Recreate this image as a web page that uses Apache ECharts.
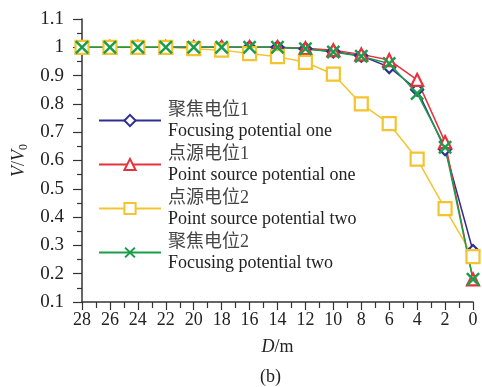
<!DOCTYPE html>
<html>
<head>
  <meta charset="utf-8">
</head>
<body style="margin: 0">
  <div id="container" style="width: 482px; height: 387px"></div>
  <script src="https://cdn.jsdelivr.net/npm/echarts@6/dist/echarts.min.js"></script>
  <script>
    // D/m positions
    var distances = [28, 26, 24, 22, 20, 18, 16, 14, 12, 10, 8, 6, 4, 2, 0];
    // V/V0 for each curve
    var focusOne = [1, 1, 1, 1, 1, 1, 1, 1, 0.995, 0.985, 0.97, 0.93, 0.85, 0.64, 0.28];
    var pointOne = [1, 1, 1, 1, 1, 1, 1, 1, 0.997, 0.99, 0.975, 0.955, 0.885, 0.665, 0.18];
    var pointTwo = [1, 1, 1, 1, 0.995, 0.99, 0.978, 0.967, 0.947, 0.905, 0.8, 0.73, 0.605, 0.43, 0.26];
    var focusTwo = [1, 1, 1, 1, 1, 1, 1, 1, 0.995, 0.983, 0.968, 0.943, 0.837, 0.647, 0.18];
    var seriesNames = ['聚焦电位1', '点源电位1', '点源电位2', '聚焦电位2'];
    var englishNames = ['Focusing potential one', 'Point source potential one',
      'Point source potential two', 'Focusing potential two'];

    var serif = '"Liberation Serif", "DejaVu Serif", "Noto Sans CJK SC", serif';
    var crossPath = 'path://M0,2.5 L2.5,0 L10,7.5 L17.5,0 L20,2.5 L12.5,10 L20,17.5 L17.5,20 L10,12.5 L2.5,20 L0,17.5 L7.5,10 Z';

    function pairs(values) {
      return distances.map(function (d, i) { return [d, values[i]]; });
    }

    var chart = echarts.init(document.getElementById('container'), null, { renderer: 'canvas' });

    function lineSeries(name, values, color, symbol, size, filled) {
      return {
        name: name,
        type: 'line',
        data: pairs(values),
        symbol: symbol,
        symbolSize: size,
        showAllSymbol: true,
        lineStyle: { color: color, width: 1.5 },
        itemStyle: filled
          ? { color: color, borderWidth: 0 }
          : { color: '#fff', borderColor: color, borderWidth: 2.2 }
      };
    }

    var option = {
      animation: false,
      backgroundColor: '#fff',
      color: ['#2e2f8f', '#e5333b', '#f4c430', '#1b9e4b'],
      title: {
        text: '(b)',
        left: 255,
        top: 363,
        textStyle: { fontFamily: serif, fontSize: 18, fontWeight: 'normal', color: '#222' }
      },
      legend: {
        orient: 'vertical',
        left: 93,
        top: 96,
        itemWidth: 62,
        itemHeight: 14,
        itemGap: 5,
        data: seriesNames,
        formatter: function (name) {
          var i = seriesNames.indexOf(name);
          return '{cn|' + name + '}\n{en|' + englishNames[i] + '}';
        },
        textStyle: {
          color: '#333',
          padding: [0, 0, 0, 2],
          rich: {
            cn: { fontFamily: serif, fontSize: 18, lineHeight: 21, color: '#444' },
            en: { fontFamily: serif, fontSize: 18, lineHeight: 21, color: '#222' }
          }
        }
      },
      grid: { left: 82, right: 9, top: 19, bottom: 85 },
      xAxis: {
        type: 'value',
        inverse: true,
        min: 0,
        max: 28,
        interval: 2,
        name: '{it|D}{n|/m}',
        nameLocation: 'middle',
        nameGap: 36,
        nameTextStyle: {
          rich: {
            it: { fontFamily: serif, fontSize: 18, fontStyle: 'italic', color: '#222' },
            n: { fontFamily: serif, fontSize: 18, color: '#222' }
          }
        },
        axisLine: { onZero: false, lineStyle: { color: '#333', width: 1.5 } },
        axisTick: { length: 8, lineStyle: { color: '#333', width: 1.2 } },
        minorTick: { show: true, splitNumber: 2, length: 6, lineStyle: { color: '#333', width: 1.2 } },
        axisLabel: { fontFamily: serif, fontSize: 18, color: '#222', margin: 9 },
        splitLine: { show: false }
      },
      yAxis: {
        type: 'value',
        position: 'left',
        min: 0.1,
        max: 1.1,
        interval: 0.1,
        name: '{it|V}{n|/}{it|V}{sub|0}',
        nameLocation: 'middle',
        nameGap: 51,
        nameTextStyle: {
          rich: {
            it: { fontFamily: serif, fontSize: 18, fontStyle: 'italic', color: '#222' },
            n: { fontFamily: serif, fontSize: 18, color: '#222' },
            sub: { fontFamily: serif, fontSize: 12, color: '#222', verticalAlign: 'bottom', padding: [8, 0, 0, 0] }
          }
        },
        axisLine: { show: true, onZero: false, lineStyle: { color: '#333', width: 1.5 } },
        axisTick: { show: true, length: 9, lineStyle: { color: '#333', width: 1.2 } },
        minorTick: { show: true, splitNumber: 2, length: 5, lineStyle: { color: '#333', width: 1.2 } },
        axisLabel: {
          fontFamily: serif, fontSize: 19, color: '#222', margin: 18,
          formatter: function (v) { return +v.toFixed(1) + ''; }
        },
        splitLine: { show: false }
      },
      series: [
        lineSeries(seriesNames[0], focusOne, '#2e2f8f', 'diamond', 12, false),
        lineSeries(seriesNames[1], pointOne, '#e5333b', 'triangle', 12, false),
        lineSeries(seriesNames[2], pointTwo, '#f4c430', 'rect', 13, false),
        lineSeries(seriesNames[3], focusTwo, '#1b9e4b', crossPath, 14, true)
      ]
    };

    chart.setOption(option);
    window.addEventListener('resize', chart.resize);
  </script>
</body>
</html>
